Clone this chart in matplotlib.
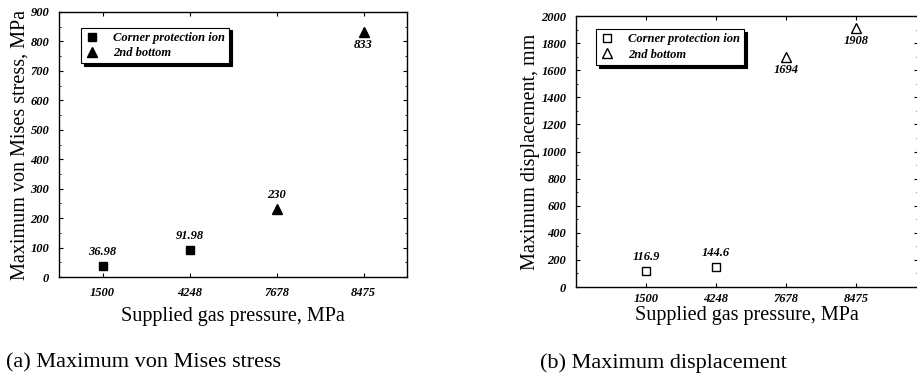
import matplotlib
matplotlib.use("Agg")
from matplotlib import pyplot as plt
from matplotlib.ticker import MultipleLocator

# data
pressures = ["1500", "4248", "7678", "8475"]
corner_idx = [0, 1]
bottom_idx = [2, 3]
stress_corner = [36.98, 91.98]
stress_bottom = [230, 833]
stress_labels = ["36.98", "91.98", "230", "833"]
disp_corner = [116.9, 144.6]
disp_bottom = [1694, 1908]
disp_labels = ["116.9", "144.6", "1694", "1908"]

serif = "Liberation Serif"
tickfont = dict(family=serif, weight="bold", style="italic", size=9)

fig = plt.figure(figsize=(9.17, 3.9), dpi=100)

def style_axes(ax, major, minor, pad=7):
    ax.tick_params(direction="in", top=True, right=True, length=3, width=0.8, pad=pad)
    ax.yaxis.set_major_locator(MultipleLocator(major))
    ax.yaxis.set_minor_locator(MultipleLocator(minor))
    ax.tick_params(which="minor", direction="in", right=True, length=1.5)
    ax.tick_params(axis="y", pad=7)
    for lab in ax.get_xticklabels() + ax.get_yticklabels():
        lab.set_fontproperties(tickfont)
    for sp in ax.spines.values():
        sp.set_linewidth(1.0)

# (a) von Mises stress
ax1 = fig.add_axes([59/917, 1-277/390, 348/917, 265/390])
xc = [i + 0.5 for i in corner_idx]
xb = [i + 0.5 for i in bottom_idx]
ax1.plot(xc, stress_corner, "s", color="black", ms=5.5, label="Corner protection ion")
ax1.plot(xb, stress_bottom, "^", color="black", ms=6.5, label="2nd bottom")
ax1.set_xlim(0, 4)
ax1.set_ylim(0, 900)
ax1.set_xticks([i + 0.5 for i in range(4)])
ax1.set_xticklabels(pressures)
style_axes(ax1, 100, 50)
ax1.set_ylabel("Maximum von Mises stress, MPa", family=serif, fontsize=14.5, labelpad=1)
ax1.set_xlabel("Supplied gas pressure, MPa", family=serif, fontsize=14.5, labelpad=6)
vals = stress_corner + stress_bottom
for i, (v, t) in enumerate(zip(vals, stress_labels)):
    if i < 3:
        ax1.annotate(t, (i + 0.5, v), xytext=(0, 6), textcoords="offset points",
                     ha="center", va="bottom", fontproperties=tickfont)
    else:
        ax1.annotate(t, (i + 0.5, v), xytext=(0, -5), textcoords="offset points",
                     ha="center", va="top", fontproperties=tickfont)
leg1 = ax1.legend(loc="upper left", bbox_to_anchor=(0.045, 0.965), prop=tickfont,
                  frameon=True, fancybox=False, shadow={"color": "black", "alpha": 1},
                  edgecolor="black", handletextpad=1.2, borderpad=0.35, labelspacing=0.25,
                  handlelength=1.0)
leg1.get_frame().set_linewidth(0.8)

# (b) displacement
ax2 = fig.add_axes([576/917, 1-287/390, 342/917, 271/390])
xc2 = [i + 1 for i in corner_idx]
xb2 = [i + 1 for i in bottom_idx]
ax2.plot(xc2, disp_corner, "s", mfc="white", mec="black", mew=1.0, ms=5.5, label="Corner protection ion")
ax2.plot(xb2, disp_bottom, "^", mfc="white", mec="black", mew=1.0, ms=6.5, label="2nd bottom")
ax2.set_xlim(0, 4.88)
ax2.set_ylim(0, 2000)
ax2.set_xticks([i + 1 for i in range(4)])
ax2.set_xticklabels(pressures)
style_axes(ax2, 200, 100, pad=4)
ax2.set_ylabel("Maximum displacement, mm", family=serif, fontsize=14.5, labelpad=1)
ax2.set_xlabel("Supplied gas pressure, MPa", family=serif, fontsize=14.5, labelpad=1)
vals2 = disp_corner + disp_bottom
for i, (v, t) in enumerate(zip(vals2, disp_labels)):
    if i < 2:
        ax2.annotate(t, (i + 1, v), xytext=(0, 6), textcoords="offset points",
                     ha="center", va="bottom", fontproperties=tickfont)
    else:
        ax2.annotate(t, (i + 1, v), xytext=(0, -5), textcoords="offset points",
                     ha="center", va="top", fontproperties=tickfont)
leg2 = ax2.legend(loc="upper left", bbox_to_anchor=(0.04, 0.975), prop=tickfont,
                  frameon=True, fancybox=False, shadow={"color": "black", "alpha": 1},
                  edgecolor="black", handletextpad=1.2, borderpad=0.35, labelspacing=0.25,
                  handlelength=1.0)
leg2.get_frame().set_linewidth(0.8)

# captions
fig.text(143/917, 1-363/390, "(a) Maximum von Mises stress", family=serif, fontsize=16,
         ha="center", va="center")
fig.text(663/917, 1-363/390, "(b) Maximum displacement", family=serif, fontsize=16,
         ha="center", va="center")

fig.savefig("out.png", dpi=100)
